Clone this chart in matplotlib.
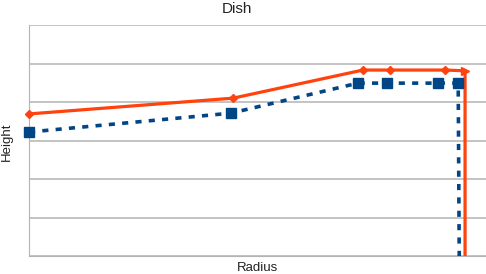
import matplotlib
matplotlib.use('Agg')
import matplotlib.pyplot as plt

plt.rcParams['font.family'] = ['Liberation Sans', 'DejaVu Sans']

# 数据
outerRadius = [0, 5.36, 8.77, 9.48, 10.92, 11.45, 11.45]
outerHeight = [3.69, 4.10, 4.83, 4.83, 4.83, 4.81, -0.5]
innerRadius = [0, 5.30, 8.64, 9.40, 10.74, 11.27, 11.30]
innerHeight = [3.22, 3.71, 4.49, 4.49, 4.49, 4.49, -0.5]

orange = '#ff420e'
blue = '#004586'

fig = plt.figure(figsize=(4.86, 2.74), dpi=100)
W, H = 486, 274
ax = fig.add_axes([29 / W, (H - 256) / H, (486 - 29) / W, (256 - 25) / H])

ax.set_xlim(0, 12)
ax.set_ylim(0, 6)
ax.set_yticks(range(0, 7))
ax.set_xticks([])
ax.tick_params(left=False, labelleft=False)
ax.grid(axis='y', color='#b3b3b3', linewidth=1.1)
ax.set_axisbelow(True)
for side in ['right', 'top']:
    ax.spines[side].set_visible(False)
ax.spines['left'].set_color('#b3b3b3')
ax.spines['bottom'].set_color('#b3b3b3')

# 线
ax.plot(outerRadius, outerHeight, color=orange, lw=2.3, zorder=4)
ax.plot(innerRadius, innerHeight, color=blue, lw=2.6, ls=(0, (1.7, 2.0)), zorder=3)
# 标记 (不裁剪)
ax.plot(outerRadius[:5], outerHeight[:5], ls='none', color=orange, marker='D', ms=4.5,
        zorder=5, clip_on=False)
ax.plot(outerRadius[5], outerHeight[5], color=orange, marker='>', ms=6, zorder=5, clip_on=False)
ax.plot(innerRadius[:6], innerHeight[:6], ls='none', color=blue, marker='s', ms=7,
        zorder=4, clip_on=False)

fig.text(237 / W, 1 - 13 / H, 'Dish', ha='center', va='baseline', fontsize=11, color='#222222')
fig.text(257 / W, 1 - 262 / H, 'Radius', ha='center', va='top', fontsize=9.5, color='#222222')
fig.text(7 / W, 1 - 142 / H, 'Height', ha='center', va='center', rotation=90,
         fontsize=9.5, color='#222222')

plt.savefig('out.png', dpi=100)
